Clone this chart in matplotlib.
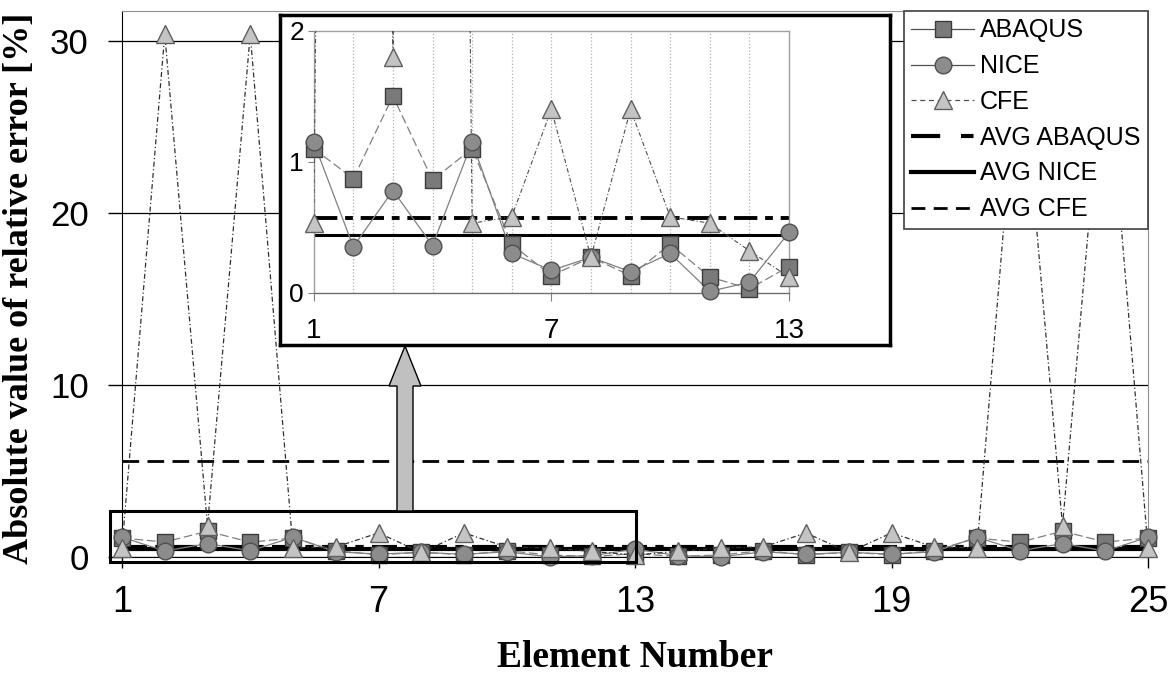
import matplotlib
matplotlib.use("Agg")
import matplotlib.pyplot as plt
import numpy as np
from matplotlib.lines import Line2D
from matplotlib.patches import Rectangle, FancyArrow

# values (elements 1..25, mirror-symmetric about 13)
elements = list(range(1, 26))
abaqus = [1.10, 0.87, 1.50, 0.86, 1.10, 0.37, 0.13, 0.27, 0.13, 0.37, 0.12, 0.03, 0.20,
          0.03, 0.12, 0.37, 0.13, 0.27, 0.13, 0.37, 1.10, 0.86, 1.50, 0.87, 1.10]
nice = [1.15, 0.35, 0.78, 0.36, 1.15, 0.30, 0.17, 0.27, 0.16, 0.30, 0.01, 0.08, 0.46,
        0.08, 0.01, 0.30, 0.16, 0.27, 0.17, 0.30, 1.15, 0.36, 0.78, 0.35, 1.15]
cfe = [0.53, 30.4, 1.80, 30.4, 0.53, 0.58, 1.40, 0.27, 1.40, 0.58, 0.53, 0.32, 0.12,
       0.32, 0.53, 0.58, 1.40, 0.27, 1.40, 0.58, 0.53, 30.4, 1.80, 30.4, 0.53]
avg_abaqus = 0.57
avg_nice = 0.44
avg_cfe = 5.6

main_xticks = [1, 7, 13, 19, 25]
main_yticks = [0, 10, 20, 30]
inset_xticks = [1, 7, 13]
inset_yticks = [0, 1, 2]
n_inset = 13

plt.rcParams['font.family'] = ['Liberation Sans', 'DejaVu Sans']

W, H = 1170, 676
fig = plt.figure(figsize=(W / 100, H / 100), dpi=100)

def fx(px):
    return px / W

def fy(py):
    return 1 - py / H

# styles
sq = dict(marker='s', ms=11, mfc='#7a7a7a', mec='#3c3c3c', mew=1)
ci = dict(marker='o', ms=12, mfc='#8c8c8c', mec='#505050', mew=1)
tr = dict(marker='^', ms=13, mfc='#c4c4c4', mec='#606060', mew=1)
ab_line = dict(color='#808080', lw=0.9, ls=(0, (7, 3)))
ni_line = dict(color='#808080', lw=0.9, ls='-')
cf_line = dict(color='#303030', lw=0.9, ls=(0, (4, 2, 1, 2)))

# ---------------- main axes ----------------
ax = fig.add_axes([fx(122), fy(557), fx(1148 - 122), (557 - 11) / H])
ax.set_xlim(1, 25)
ax.set_ylim(0, 31.75)

ax.axhline(avg_cfe, color='black', lw=2, ls=(0, (6, 3)), zorder=1)
ax.axhline(avg_abaqus, color='black', lw=3, ls=(0, (6, 2, 2, 2)), zorder=1)
ax.axhline(avg_nice, color='black', lw=3, ls='-', zorder=1)

ax.plot(elements, abaqus, zorder=2, **ab_line)
ax.plot(elements, nice, zorder=2, **ni_line)
ax.plot(elements, cfe, zorder=2, **cf_line)
ax.plot(elements, abaqus, ls='none', zorder=3, clip_on=False, **sq)
ax.plot(elements, nice, ls='none', zorder=3, clip_on=False, **ci)
ax.plot(elements, cfe, ls='none', zorder=3, clip_on=False, **tr)

ax.set_xticks(main_xticks)
ax.set_yticks(main_yticks)
ax.tick_params(axis='x', labelsize=26, length=8, width=1, pad=12, direction='out')
ax.tick_params(axis='y', labelsize=25, length=10, width=1, pad=14, direction='out')
ax.yaxis.grid(True, color='black', lw=0.9)
ax.set_axisbelow(True)
for s in ['top', 'right']:
    ax.spines[s].set_color('#909090')
ax.spines['left'].set_color('black')
ax.spines['bottom'].set_color('black')

# zoom rectangle around elements 1-13
ax.add_patch(Rectangle((0.72, -0.3), 12.3, 2.97, fill=False, ec='black', lw=2.2,
                       clip_on=False, zorder=4))

# legend
handles = [
    Line2D([], [], color='#505050', lw=0.9, **sq),
    Line2D([], [], color='#505050', lw=0.9, **ci),
    Line2D([], [], color='#505050', lw=0.9, ls=(0, (4, 3)), **tr),
    Line2D([], [], color='black', lw=3, ls=(0, (7, 5, 3, 5))),
    Line2D([], [], color='black', lw=3, ls='-'),
    Line2D([], [], color='black', lw=2, ls=(0, (5, 3))),
]
labels = ['ABAQUS', 'NICE', 'CFE', 'AVG ABAQUS', 'AVG NICE', 'AVG CFE']
leg = ax.legend(handles, labels, loc='upper right', bbox_to_anchor=(fx(1148), fy(11)),
                bbox_transform=fig.transFigure, fontsize=18, frameon=True, fancybox=False,
                edgecolor='#404040', framealpha=1, handlelength=2.5, handletextpad=0.25,
                labelspacing=0.47, borderpad=0.3, borderaxespad=0)
leg.get_frame().set_linewidth(1.2)
leg.set_zorder(10)

# axis titles
fig.text(fx(20), fy(288), 'Absolute value of relative error [%]', rotation=90,
         ha='center', va='center', fontsize=26, fontweight='bold', family='Liberation Serif')
fig.text(fx(635), 0.002, 'Element Number', ha='center', va='bottom',
         fontsize=27, fontweight='bold', family='Liberation Serif')

# arrow from zoom rectangle up to inset
arrow = FancyArrow(fx(405), fy(511), 0, (511 - 346) / H, width=16 / W,
                   head_width=32 / W, head_length=40 / H, length_includes_head=True,
                   transform=fig.transFigure, fc='#c0c0c0', ec='black', lw=1)
fig.add_artist(arrow)

# ---------------- inset ----------------
box = fig.add_axes([fx(280), fy(345), fx(610), 330 / H])
box.set_xticks([])
box.set_yticks([])
box.set_facecolor('white')
for s in box.spines.values():
    s.set_linewidth(2.5)
    s.set_color('black')

ins = fig.add_axes([fx(313.7), fy(292.7), fx(789 - 313.7), (292.7 - 30.7) / H])
ins.set_facecolor('none')
ins.set_xlim(1, 13)
ins.set_ylim(0, 2)

e_in = elements[:n_inset]
ab_in = abaqus[:n_inset]
ni_in = nice[:n_inset]
cf_in = cfe[:n_inset]
cf_in_mk = np.where(np.array(cf_in) <= 2, cf_in, np.nan)

ins.axhline(avg_abaqus, color='black', lw=2.8, ls=(0, (6, 2, 2, 2)), zorder=2)
ins.axhline(avg_nice, color='black', lw=2.2, ls='-', zorder=2)
ins.plot(e_in, ab_in, zorder=3, **ab_line)
ins.plot(e_in, ni_in, zorder=3, **ni_line)
ins.plot(e_in, cf_in, zorder=3, color='#505050', lw=0.8, ls=(0, (4, 2, 1, 2)))
ins.plot(e_in, ab_in, ls='none', zorder=4, clip_on=False, **sq)
ins.plot(e_in, ni_in, ls='none', zorder=4, clip_on=False, **ci)
ins.plot(e_in, cf_in_mk, ls='none', zorder=4, clip_on=False, **tr)

ins.set_xticks(inset_xticks)
ins.set_xticks(elements[:n_inset], minor=True)
ins.set_yticks(inset_yticks)
ins.xaxis.grid(True, which='both', color='#b0b0b0', ls=':', lw=0.9)
ins.set_axisbelow(True)
ins.tick_params(axis='x', which='minor', length=0)
ins.tick_params(axis='x', labelsize=20, length=6, color='#808080', pad=12)
ins.tick_params(axis='y', labelsize=19, length=4, color='#808080', pad=3)
for s in ins.spines.values():
    s.set_color('#a0a0a0')
    s.set_linewidth(1)
ins.spines['bottom'].set_color('#707070')

fig.savefig('out.png', dpi=100)
